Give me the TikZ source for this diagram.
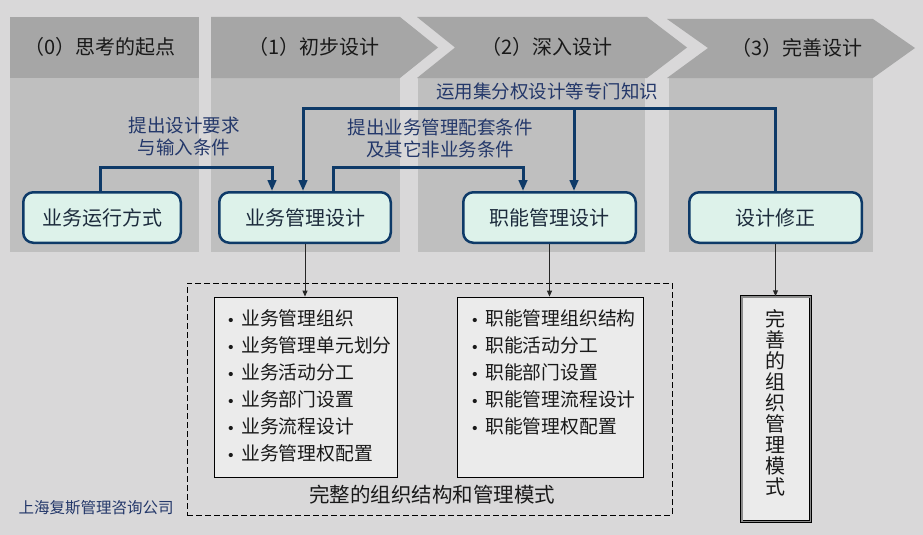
\documentclass[tikz,border=0pt]{standalone}
\usepackage{fontspec}
\newfontfamily\cjk{Noto Sans CJK SC}
\usetikzlibrary{arrows.meta}
\definecolor{bgc}{HTML}{D9D8D9}
\definecolor{hdrc}{HTML}{A6A6A6}
\definecolor{bodyc}{HTML}{BFBFBF}
\definecolor{mint}{HTML}{DDF2EA}
\definecolor{navy}{HTML}{0E3A68}
\definecolor{boxtxt}{HTML}{1C2B3C}
\definecolor{lbltxt}{HTML}{24386A}
\definecolor{listfill}{HTML}{EBEBEB}
\begin{document}
\begin{tikzpicture}[x=1pt,y=-1pt,
  hdr/.style={fill=hdrc,draw=none},
  colbody/.style={fill=bodyc,draw=none},
  hdrtext/.style={font=\cjk\fontsize{20}{24}\selectfont,text=black!90,inner sep=0pt},
  proc/.style={draw=navy,line width=2.5pt,fill=mint,rounded corners=10pt,minimum height=50.5pt,inner sep=0pt,text=boxtxt,font=\cjk\fontsize{20}{24}\selectfont},
  lbl/.style={font=\cjk\fontsize{18.5}{22}\selectfont,text=lbltxt,align=center,inner sep=0pt},
  bigarrow/.style={draw=navy,line width=3pt,-{Triangle[length=11pt,width=8.5pt]}},
  thinarrow/.style={draw=black!85,line width=1pt,-{Triangle[length=6pt,width=5pt]}},
  listbox/.style={draw=black,line width=0.8pt,fill=listfill,minimum height=180pt,inner sep=0pt},
  item/.style={anchor=west,inner sep=0pt,font=\cjk\fontsize{18.8}{22}\selectfont,text=black!90},
]
\useasboundingbox (0,0) rectangle (923,535);
\fill[bgc] (0,0) rectangle (923,535);
% column bodies
\fill[colbody] (10,78) rectangle (199,252);
\fill[colbody] (211,78) rectangle (400,252);
\fill[colbody] (418,78) rectangle (645,252);
\fill[colbody] (669,78) rectangle (873,252);
% headers
\fill[hdr] (10,17) rectangle (199,78);
\fill[hdr] (211,17) -- (400,17) -- (438,47.5) -- (400,78) -- (211,78) -- cycle;
\fill[hdr] (417,17) -- (647,17) -- (687,47.5) -- (647,78) -- (417,78) -- (455,47.5) -- cycle;
\fill[hdr] (667,19) -- (873,19) -- (915,48) -- (873,78) -- (667,78) -- (708,48) -- cycle;
\node[hdrtext] (h0) at (100,47) {（0）思考的起点};
\node[hdrtext] (h1) at (314,47) {（1）初步设计};
\node[hdrtext] (h2) at (547,47) {（2）深入设计};
\node[hdrtext] (h3) at (797,48) {（3）完善设计};
% labels
\node[lbl] (l1) at (184,136) {提出设计要求\\与输入条件};
\node[lbl] (l2) at (440,138) {提出业务管理配套条件\\及其它非业务条件};
\node[lbl] (l3) at (547,91) {运用集分权设计等专门知识};
% process boxes
\node[proc,minimum width=157.5pt] (n0) at (102,217.5) {业务运行方式};
\node[proc,minimum width=171.5pt] (n1) at (305,217.5) {业务管理设计};
\node[proc,minimum width=172.5pt] (n2) at (549.5,217.5) {职能管理设计};
\node[proc,minimum width=172.5pt] (n3) at (775.5,217.5) {设计修正};
% thick connectors
\draw[bigarrow] ([xshift=-2pt]n0.north) -- ([xshift=-2pt]n0.north |- 0,167) -| ([xshift=-33pt]n1.north);
\draw[bigarrow] (n3.north) -- (n3.north |- 0,108) -| ([xshift=-2pt]n1.north);
\draw[bigarrow] ([xshift=24.5pt]n2.north |- 0,108) -- ([xshift=24.5pt]n2.north);
\draw[bigarrow] ([xshift=28pt]n1.north) -- ([xshift=28pt]n1.north |- 0,167) -| ([xshift=-26.5pt]n2.north);
% dashed frame and lists
\node[draw=black,line width=0.8pt,dash pattern=on 6pt off 3pt,minimum width=485pt,minimum height=232pt,inner sep=0pt] (frame) at (429.5,399) {};
\node[listbox,minimum width=183pt] (lb1) at (305.5,387) {};
\node[listbox,minimum width=186pt] (lb2) at (550,387) {};
\foreach \t [count=\i] in {业务管理组织,业务管理单元划分,业务活动分工,业务部门设置,业务流程设计,业务管理权配置}{
  \node[item] (a\i) at (224,291+27*\i) {\makebox[17pt][l]{\normalfont\textbullet}\t};
}
\foreach \t [count=\i] in {职能管理组织结构,职能活动分工,职能部门设置,职能管理流程设计,职能管理权配置}{
  \node[item] (b\i) at (468,291+27*\i) {\makebox[17pt][l]{\normalfont\textbullet}\t};
}
\node[font=\cjk\fontsize{20.5}{24}\selectfont,text=black!90,inner sep=0pt] (ftitle) at (432,495) {完整的组织结构和管理模式};
\draw[thinarrow] (n1.south) -- (n1.south |- lb1.north);
\draw[thinarrow] (n2.south) -- (n2.south |- lb2.north);
% vertical result box
\node[draw=black,line width=0.9pt,double=black!45,double distance=1.6pt,fill=listfill,minimum width=68.6pt,minimum height=224.6pt,inner sep=0pt] (vbox) at (776,409) {};
\node[font=\cjk\fontsize{20}{21}\selectfont,text=black!90,align=center,inner sep=0pt] (vtext) at (775,402.5) {完\\善\\的\\组\\织\\管\\理\\模\\式};
\draw[thinarrow] (n3.south) -- (n3.south |- vbox.north);
% footer
\node[font=\cjk\fontsize{15.5}{18}\selectfont,text=lbltxt,inner sep=0pt] (foot) at (96,508) {上海复斯管理咨询公司};
\end{tikzpicture}
\end{document}
